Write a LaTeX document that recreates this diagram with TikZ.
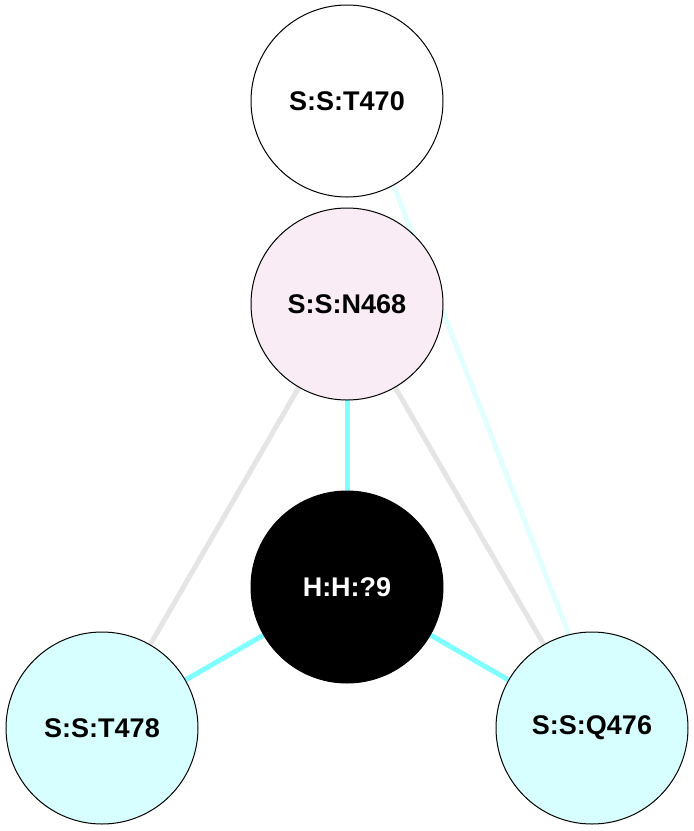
\documentclass[tikz,border=0pt]{standalone}
\usepackage{fontspec}
\setmainfont{Liberation Sans}
\usetikzlibrary{backgrounds}
\definecolor{pinkfill}{RGB}{250,236,244}
\definecolor{cyanfill}{RGB}{216,255,255}
\definecolor{cyanedge}{RGB}{128,255,255}
\definecolor{grayedge}{RGB}{229,229,229}
\definecolor{faintedge}{RGB}{226,255,255}
\tikzset{
  res/.style={circle, draw=black, line width=1pt, minimum size=192pt, inner sep=0pt,
    font=\fontsize{27}{31}\selectfont\bfseries},
  cyanline/.style={draw=cyanedge, line width=5pt},
  grayline/.style={draw=grayedge, line width=5pt},
  faintline/.style={draw=faintedge, line width=5pt},
}
\begin{document}
\begin{tikzpicture}[x=1pt,y=-1pt]
\useasboundingbox (0,0) rectangle (694,831);
\node[res, fill=white] (t470) at (347,101) {S:S:T470};
\node[res, fill=pinkfill] (n468) at (347,304) {S:S:N468};
\node[res, fill=black, text=white] (h9) at (347,587) {H:H:?9};
\node[res, fill=cyanfill] (t478) at (102,728) {S:S:T478};
\node[res, fill=cyanfill] (q476) at (592,728) {S:S:Q476};
\begin{pgfonlayer}{background}
\draw[faintline] ([xshift=13.5pt]t470.center) -- ([xshift=13.5pt]q476.center);
\draw[grayline] (n468.center) -- (t478.center);
\draw[grayline] (n468.center) -- (q476.center);
\draw[cyanline] (n468.center) -- (h9.center);
\draw[cyanline] (h9.center) -- (t478.center);
\draw[cyanline] (h9.center) -- (q476.center);
\end{pgfonlayer}
\end{tikzpicture}
\end{document}
